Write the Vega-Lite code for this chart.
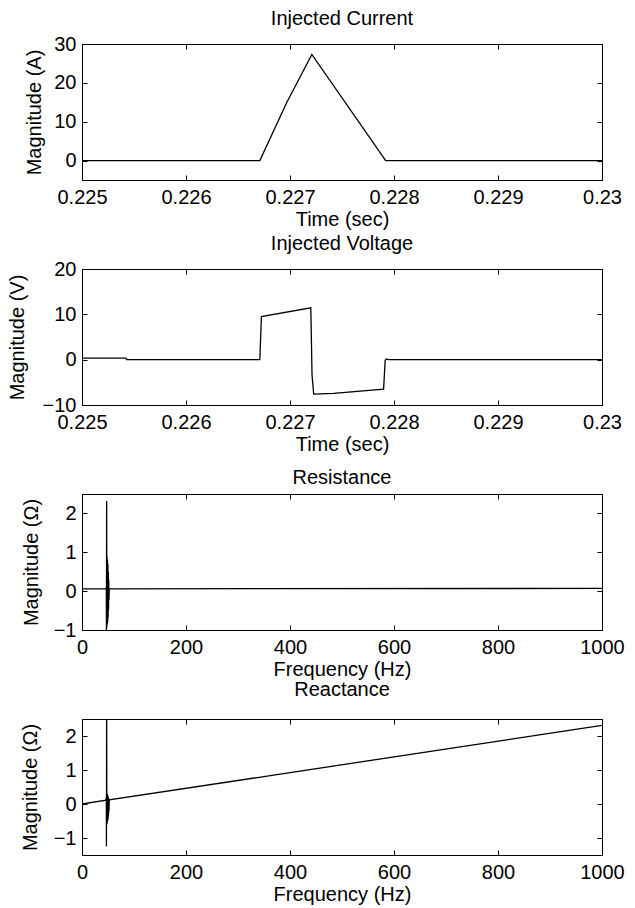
{
  "$schema": "https://vega.github.io/schema/vega-lite/v6.json",
  "background": "white",
  "padding": {"left": 6, "top": 8, "right": 5, "bottom": 2},
  "bounds": "flush",
  "spacing": 89,
  "config": {
    "view": {"stroke": "black", "strokeWidth": 1},
    "font": "Liberation Sans",
    "title": {"fontSize": 20, "fontWeight": "normal", "color": "black", "baseline": "alphabetic", "offset": 5.5, "frame": "group", "anchor": "middle"},
    "axis": {"grid": false, "domainColor": "black", "tickColor": "black", "labelColor": "black", "titleColor": "black", "labelFontSize": 20, "titleFontSize": 20, "titleFontWeight": "normal", "tickSize": -5, "domainWidth": 1, "tickWidth": 1, "labelFlush": false, "labelOverlap": false},
    "axisX": {"labelPadding": 12.6, "titlePadding": 1.5},
    "axisY": {"labelPadding": 11}
  },
  "vconcat": [
    {
      "width": 520, "height": 136,
      "title": "Injected Current",
      "data": {"values": [
        {"t": 0.225, "v": 0},
        {"t": 0.22671, "v": 0},
        {"t": 0.22697, "v": 15},
        {"t": 0.22721, "v": 27.3},
        {"t": 0.22792, "v": 0},
        {"t": 0.23, "v": 0}
      ]},
      "layer": [
        {"mark": {"type": "line", "color": "black", "strokeWidth": 1.3, "clip": true},
         "encoding": {
           "x": {"field": "t", "type": "quantitative", "scale": {"domain": [0.225, 0.23], "nice": false, "zero": false}, "axis": {"orient": "bottom", "title": "Time (sec)", "values": [0.225, 0.226, 0.227, 0.228, 0.229, 0.23], "format": ".3~f"}},
           "y": {"field": "v", "type": "quantitative", "scale": {"domain": [-5, 30], "nice": false, "zero": false}, "axis": {"orient": "left", "title": "Magnitude (A)", "values": [0, 10, 20, 30], "titlePadding": 9}}
         }},
        {"mark": {"type": "point", "opacity": 0, "size": 0},
         "encoding": {
           "x": {"field": "t", "type": "quantitative", "axis": {"orient": "top", "labels": false, "title": null, "values": [0.225, 0.226, 0.227, 0.228, 0.229, 0.23]}},
           "y": {"field": "v", "type": "quantitative", "axis": {"orient": "right", "labels": false, "title": null, "values": [0, 10, 20, 30]}}
         }}
      ]
    },
    {
      "width": 520, "height": 136,
      "title": "Injected Voltage",
      "data": {"values": [
        {"t": 0.225, "v": 0.35},
        {"t": 0.22542, "v": 0.35},
        {"t": 0.22543, "v": 0.0},
        {"t": 0.22671, "v": 0.0},
        {"t": 0.226725, "v": 9.5},
        {"t": 0.2272, "v": 11.45},
        {"t": 0.227212, "v": -3.5},
        {"t": 0.227228, "v": -7.6},
        {"t": 0.22742, "v": -7.45},
        {"t": 0.2279, "v": -6.5},
        {"t": 0.227915, "v": -0.2},
        {"t": 0.227925, "v": 0.15},
        {"t": 0.22795, "v": 0.0},
        {"t": 0.23, "v": 0.0}
      ]},
      "layer": [
        {"mark": {"type": "line", "color": "black", "strokeWidth": 1.3, "clip": true},
         "encoding": {
           "x": {"field": "t", "type": "quantitative", "scale": {"domain": [0.225, 0.23], "nice": false, "zero": false}, "axis": {"orient": "bottom", "title": "Time (sec)", "values": [0.225, 0.226, 0.227, 0.228, 0.229, 0.23], "format": ".3~f"}},
           "y": {"field": "v", "type": "quantitative", "scale": {"domain": [-10, 20], "nice": false, "zero": false}, "axis": {"orient": "left", "title": "Magnitude (V)", "values": [-10, 0, 10, 20], "titlePadding": 15}}
         }},
        {"mark": {"type": "point", "opacity": 0, "size": 0},
         "encoding": {
           "x": {"field": "t", "type": "quantitative", "axis": {"orient": "top", "labels": false, "title": null, "values": [0.225, 0.226, 0.227, 0.228, 0.229, 0.23]}},
           "y": {"field": "v", "type": "quantitative", "axis": {"orient": "right", "labels": false, "title": null, "values": [-10, 0, 10, 20]}}
         }}
      ]
    },
    {
      "width": 520, "height": 136,
      "title": "Resistance",
      "data": {"values": [
        {"f": 0, "r": 0.06},
        {"f": 46.0, "r": 0.06},
        {"f": 46.8, "r": 0.1},
        {"f": 47.0, "r": -1.05},
        {"f": 47.4, "r": 2.32},
        {"f": 47.8, "r": -0.93},
        {"f": 48.2, "r": 0.88},
        {"f": 48.6, "r": -0.85},
        {"f": 49.0, "r": 0.8},
        {"f": 49.4, "r": -0.8},
        {"f": 49.8, "r": 0.7},
        {"f": 50.2, "r": -0.7},
        {"f": 50.6, "r": 0.5},
        {"f": 51.0, "r": -0.5},
        {"f": 51.4, "r": 0.3},
        {"f": 51.8, "r": -0.23},
        {"f": 52.4, "r": 0.06},
        {"f": 1000, "r": 0.07}
      ]},
      "layer": [
        {"mark": {"type": "line", "color": "black", "strokeWidth": 1.3, "clip": true},
         "encoding": {
           "x": {"field": "f", "type": "quantitative", "scale": {"domain": [0, 1000], "nice": false, "zero": false}, "axis": {"orient": "bottom", "title": "Frequency (Hz)", "values": [0, 200, 400, 600, 800, 1000], "format": "d"}},
           "y": {"field": "r", "type": "quantitative", "scale": {"domain": [-1, 2.5], "nice": false, "zero": false}, "axis": {"orient": "left", "title": "Magnitude (Ω)", "values": [-1, 0, 1, 2], "format": "d", "titlePadding": 12}}
         }},
        {"mark": {"type": "point", "opacity": 0, "size": 0},
         "encoding": {
           "x": {"field": "f", "type": "quantitative", "axis": {"orient": "top", "labels": false, "title": null, "values": [0, 200, 400, 600, 800, 1000]}},
           "y": {"field": "r", "type": "quantitative", "axis": {"orient": "right", "labels": false, "title": null, "values": [-1, 0, 1, 2]}}
         }}
      ]
    },
    {
      "width": 520, "height": 136,
      "title": "Reactance",
      "data": {"values": [
        {"f": 0, "x": 0.0},
        {"f": 46.0, "x": 0.11},
        {"f": 46.8, "x": 0.2},
        {"f": 47.0, "x": -1.24},
        {"f": 47.4, "x": 2.9},
        {"f": 47.8, "x": -0.6},
        {"f": 48.2, "x": 0.3},
        {"f": 48.6, "x": -0.55},
        {"f": 49.0, "x": 0.28},
        {"f": 49.4, "x": -0.5},
        {"f": 49.8, "x": 0.25},
        {"f": 50.2, "x": -0.45},
        {"f": 50.6, "x": 0.2},
        {"f": 51.0, "x": -0.35},
        {"f": 51.4, "x": 0.15},
        {"f": 51.8, "x": -0.22},
        {"f": 52.4, "x": 0.12},
        {"f": 1000, "x": 2.31}
      ]},
      "layer": [
        {"mark": {"type": "line", "color": "black", "strokeWidth": 1.3, "clip": true},
         "encoding": {
           "x": {"field": "f", "type": "quantitative", "scale": {"domain": [0, 1000], "nice": false, "zero": false}, "axis": {"orient": "bottom", "title": "Frequency (Hz)", "values": [0, 200, 400, 600, 800, 1000], "format": "d"}},
           "y": {"field": "x", "type": "quantitative", "scale": {"domain": [-1.5, 2.5], "nice": false, "zero": false}, "axis": {"orient": "left", "title": "Magnitude (Ω)", "values": [-1, 0, 1, 2], "format": "d", "titlePadding": 13}}
         }},
        {"mark": {"type": "point", "opacity": 0, "size": 0},
         "encoding": {
           "x": {"field": "f", "type": "quantitative", "axis": {"orient": "top", "labels": false, "title": null, "values": [0, 200, 400, 600, 800, 1000]}},
           "y": {"field": "x", "type": "quantitative", "axis": {"orient": "right", "labels": false, "title": null, "values": [-1, 0, 1, 2]}}
         }}
      ]
    }
  ]
}
